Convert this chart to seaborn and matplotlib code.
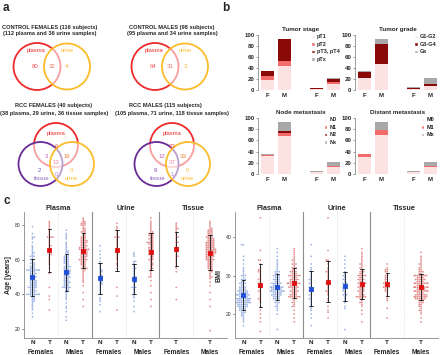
import numpy as np
import pandas as pd
import matplotlib
matplotlib.use('Agg')
import matplotlib.pyplot as plt
from matplotlib.patches import Circle, Patch
import seaborn as sns

# ---- panel a: Venn counts ----
ctrl_f_counts = [80, 32, 4]          # plasma only, both, urine only
ctrl_m_counts = [64, 31, 3]
# plasma only, plasma+tissue, plasma+urine, all, tissue only, tissue+urine, urine only
rcc_f_counts = [6, 3, 16, 13, 2, 0, 0]
rcc_m_counts = [23, 12, 33, 37, 9, 1, 0]

# ---- panel b: stacked bars ----
bar_groups = ['F', 'M', 'F', 'M']
bar_pos = [0, 1, 3, 4]
stage_labels = ['pT1', 'pT2', 'pT3, pT4', 'pTx']
stage_pt1 = [19, 44, 1, 11]
stage_pt2 = [6, 8, 1, 3]
stage_pt34 = [10, 40, 2, 6]
stage_ptx = [0, 1, 0, 2]
grade_labels = ['G1-G2', 'G3-G4', 'Gx']
grade_g12 = [21, 47, 1, 8]
grade_g34 = [12, 36, 2, 3]
grade_gx = [2, 10, 2, 11]
node_labels = ['N0', 'N1', 'N2', 'Nx']
node_n0 = [32, 67, 4, 13]
node_n1 = [2, 7, 0, 2]
node_n2 = [0, 3, 0, 0]
node_nx = [1, 16, 1, 7]
dist_labels = ['M0', 'M1', 'Mx']
dist_m0 = [31, 69, 4, 13]
dist_m1 = [4, 10, 0, 1]
dist_mx = [0, 14, 1, 8]

# ---- panel c: age / BMI per group ----
group_pos = [0, 1, 2, 3, 4, 5, 6, 7, 8.5, 10.5]
group_kind = ['N', 'T', 'N', 'T', 'N', 'T', 'N', 'T', 'T', 'T']
sex_labels = ['Females', 'Males', 'Females', 'Males', 'Females', 'Males']
sample_titles = ['Plasma', 'Urine', 'Tissue']

age_plasma_f_n = [27, 29, 31, 32, 33, 34, 35, 36, 36, 37, 37, 38, 38, 39, 39, 39, 40, 40, 40, 40, 40, 40, 40, 40,
                  41, 41, 41, 42, 42, 42, 42, 43, 43, 43, 44, 44, 44, 44, 44, 45, 45, 45, 45, 46, 46, 46, 46,
                  47, 47, 47, 47, 48, 48, 48, 48, 49, 49, 49, 50, 50, 50, 50, 51, 51, 51, 52, 52, 52, 52,
                  53, 53, 53, 54, 54, 54, 54, 54, 54, 54, 54, 55, 55, 55, 56, 56, 56, 57, 57, 58, 58, 58,
                  59, 60, 60, 60, 61, 62, 62, 62, 63, 64, 64, 65, 66, 67, 68, 70, 72, 73, 73, 75, 79]
age_plasma_f_t = [31, 37, 39, 44, 52, 55, 57, 58, 59, 60, 61, 62, 63, 63, 64, 65, 66, 66, 67, 68, 68, 69, 70,
                  71, 72, 73, 73, 73, 73, 74, 75, 76, 77, 78, 79, 80, 81, 82]
age_plasma_m_n = [25, 27, 30, 32, 33, 35, 37, 38, 39, 40, 41, 42, 42, 43, 43, 44, 44, 44, 44, 44, 45, 45, 45,
                  46, 46, 46, 47, 47, 47, 47, 48, 48, 48, 49, 49, 49, 50, 50, 50, 50, 51, 51, 51, 52, 52, 52,
                  52, 53, 53, 53, 53, 54, 54, 54, 54, 55, 55, 55, 56, 56, 56, 56, 57, 57, 58, 58, 58, 59, 59,
                  59, 60, 60, 60, 61, 61, 61, 62, 62, 62, 63, 63, 64, 64, 65, 65, 66, 67, 68, 69, 70, 72, 73,
                  74, 75, 77]
age_plasma_m_t = [33, 37, 41, 45, 47, 48, 49, 50, 51, 52, 53, 54, 54, 55, 55, 55, 55, 56, 56, 57, 57, 57, 58,
                  58, 58, 59, 59, 59, 60, 60, 60, 60, 60, 61, 61, 61, 62, 62, 62, 62, 63, 63, 63, 63, 64, 64,
                  64, 64, 65, 65, 65, 65, 66, 66, 66, 66, 66, 66, 67, 67, 67, 67, 68, 68, 68, 68, 69, 69, 69,
                  70, 70, 70, 70, 71, 71, 71, 71, 72, 72, 72, 73, 73, 73, 74, 74, 75, 75, 76, 76, 76, 77, 77,
                  78, 78, 79, 80, 80, 80, 81, 81, 81, 82, 82, 83, 84]
age_urine_f_n = [30, 34, 36, 37, 38, 40, 41, 42, 43, 44, 45, 46, 46, 47, 47, 48, 48, 49, 50, 50, 51, 51, 52,
                 53, 53, 54, 54, 55, 56, 57, 58, 59, 61, 63, 65, 68]
age_urine_f_t = [31, 39, 44, 55, 57, 58, 60, 61, 62, 63, 64, 65, 66, 67, 68, 69, 70, 71, 72, 73, 73, 73, 74,
                 75, 76, 77, 78, 79, 81]
age_urine_m_n = [30, 33, 36, 38, 39, 40, 41, 42, 43, 44, 44, 44, 45, 46, 47, 47, 48, 49, 50, 50, 51, 52, 53,
                 54, 55, 55, 56, 57, 58, 59, 59, 62, 63, 64]
age_urine_m_t = [33, 37, 41, 45, 48, 50, 50, 51, 52, 53, 54, 55, 55, 56, 57, 57, 58, 58, 59, 60, 60, 60, 61,
                 61, 62, 62, 63, 63, 63, 64, 64, 65, 65, 65, 66, 66, 66, 67, 67, 67, 68, 68, 69, 69, 69, 70,
                 70, 70, 70, 71, 71, 72, 72, 72, 73, 73, 74, 74, 74, 75, 75, 75, 76, 76, 77, 78, 79, 80, 81,
                 82, 84]
age_tissue_f_t = [37, 44, 53, 55, 56, 57, 58, 59, 60, 61, 62, 62, 63, 64, 65, 65, 66, 67, 67, 68, 69, 70, 70,
                  71, 72, 73, 73, 74, 75, 76, 77, 78, 78, 79, 80, 81]
age_tissue_m_t = [19, 33, 37, 41, 45, 47, 49, 50, 50, 51, 52, 53, 53, 54, 54, 55, 55, 55, 56, 56, 56, 57, 57,
                  57, 58, 58, 58, 59, 59, 59, 60, 60, 60, 60, 60, 61, 61, 61, 61, 62, 62, 62, 62, 62, 63, 63,
                  63, 63, 63, 64, 64, 64, 64, 64, 64, 65, 65, 65, 65, 65, 65, 66, 66, 66, 66, 66, 66, 67, 67,
                  67, 67, 67, 68, 68, 68, 68, 68, 69, 69, 69, 69, 69, 70, 70, 70, 70, 70, 71, 71, 71, 71, 72,
                  72, 72, 72, 73, 73, 73, 73, 74, 74, 74, 75, 75, 75, 76, 76, 76, 77, 77, 77, 78, 78, 79, 80,
                  81, 82]

bmi_plasma_f_n = [17, 18, 18.5, 19, 19.5, 19.5, 20, 20, 20.5, 20.5, 20.5, 21, 21, 21, 21, 21.5, 21.5, 21.5,
                  21.5, 22, 22, 22, 22, 22, 22, 22.5, 22.5, 22.5, 22.5, 22.5, 22.5, 23, 23, 23, 23, 23, 23,
                  23, 23, 23, 23.5, 23.5, 23.5, 23.5, 23.5, 23.5, 23.5, 24, 24, 24, 24, 24, 24, 24, 24, 24,
                  24.5, 24.5, 24.5, 24.5, 24.5, 25, 25, 25, 25, 25, 25, 25, 25, 25.5, 25.5, 25.5, 25.5, 25.5,
                  26, 26, 26, 26, 26, 26, 26.5, 26.5, 26.5, 26.5, 27, 27, 27, 27, 27.5, 27.5, 28, 28, 28, 28,
                  28.5, 28.5, 29, 29, 29, 29.5, 30, 30, 30, 30.5, 31, 31.5, 32, 33, 34, 35, 38, 38]
bmi_plasma_f_t = [15.5, 18, 19, 20, 21, 22, 23, 23.5, 24, 24, 24.5, 25, 25.5, 26, 26, 26.5, 27, 27, 27, 27.5,
                  28, 28, 28.5, 29, 29, 29.5, 30, 30.5, 31, 31, 31.5, 31.5, 32, 33, 34, 34, 36.5, 45]
bmi_plasma_m_n = [16, 20, 21, 21.5, 22, 22, 22.5, 23, 23, 23, 23.5, 23.5, 24, 24, 24, 24, 24.5, 24.5, 24.5,
                  24.5, 25, 25, 25, 25, 25, 25, 25.5, 25.5, 25.5, 25.5, 25.5, 26, 26, 26, 26, 26, 26, 26, 26,
                  26, 26.5, 26.5, 26.5, 26.5, 26.5, 26.5, 27, 27, 27, 27, 27, 27, 27, 27, 27.5, 27.5, 27.5,
                  27.5, 28, 28, 28, 28, 28, 28, 28.5, 28.5, 28.5, 29, 29, 29, 29, 29.5, 29.5, 29.5, 30, 30, 30,
                  30, 30.5, 30.5, 31, 31, 31, 31.5, 32, 32.5, 33, 33.5, 34, 35, 36, 37]
bmi_plasma_m_t = [18, 19, 20, 21, 22, 22, 22.5, 23, 23, 23.5, 24, 24, 24, 24.5, 24.5, 24.5, 24.5, 24.5, 24.5,
                  24.5, 25, 25, 25, 25, 25.5, 25.5, 25.5, 26, 26, 26, 26, 26, 26.5, 26.5, 26.5, 27, 27, 27, 27,
                  27, 27, 27.5, 27.5, 27.5, 27.5, 28, 28, 28, 28, 28, 28, 28, 28, 28.5, 28.5, 28.5, 28.5, 29,
                  29, 29, 29, 29, 29.5, 29.5, 29.5, 30, 30, 30, 30, 30, 30, 30, 30.5, 30.5, 30.5, 31, 31, 31,
                  31, 31.5, 31.5, 32, 32, 32, 32.5, 33, 33, 33, 33.5, 34, 34, 34.5, 35, 35.5, 36, 36.5, 37]
bmi_urine_f_n = [17, 19, 20, 21, 21.5, 22, 22.5, 23, 23.5, 24, 24, 24.5, 25, 25, 25.5, 26, 26, 26, 26.5, 27,
                 27, 27.5, 28, 28, 28.5, 29, 29, 29.5, 30, 30.5, 31, 31.5, 32, 33, 35, 38]
bmi_urine_f_t = [19, 20.5, 21, 22, 23.5, 24, 25, 25.5, 26, 26, 26.5, 27, 27.5, 28, 28, 28.5, 29, 29.5, 30,
                 30.5, 31, 31, 31.5, 32, 33, 34, 34, 36.5, 45]
bmi_urine_m_n = [16, 21.5, 22, 23, 23.5, 24, 24.5, 25, 25, 25, 25.5, 26, 26, 26.5, 26.5, 27, 27, 27, 27.5, 28,
                 28, 28, 28.5, 29, 29, 29.5, 30, 30, 30.5, 31, 32, 33, 34, 35]
bmi_urine_m_t = [18, 20, 21, 22, 22.5, 23, 23, 23.5, 24, 24, 24.5, 24.5, 24.5, 24.5, 24.5, 24.5, 25, 25, 25,
                 25.5, 25.5, 26, 26, 26, 26, 26.5, 26.5, 27, 27, 27, 27.5, 27.5, 27.5, 28, 28, 28, 28, 28.5,
                 28.5, 29, 29, 29, 29.5, 29.5, 30, 30, 30, 30, 30.5, 30.5, 31, 31, 31, 31.5, 32, 32, 32.5,
                 33, 33, 33.5, 34, 34.5, 35, 35.5, 36, 37, 26.5, 27, 28, 29, 30]
bmi_tissue_f_t = [19, 21.5, 23.5, 24, 24.5, 25, 25.5, 26, 26, 26.5, 26.5, 27, 27, 27, 27, 27.5, 27.5, 28, 28,
                  28, 28, 28.5, 28.5, 29, 29, 29.5, 29.5, 30, 30, 30.5, 31, 31, 31.5, 31.5, 32, 33]
bmi_tissue_m_t = [18, 19, 20, 20.5, 21, 21, 21.5, 22, 22, 22.5, 22.5, 23, 23, 23, 23.5, 23.5, 23.5, 24, 24,
                  24, 24, 24, 24.5, 24.5, 24.5, 24.5, 24.5, 24.5, 24.5, 24.5, 25, 25, 25, 25, 25, 25, 25.5,
                  25.5, 25.5, 25.5, 26, 26, 26, 26, 26, 26, 26, 26.5, 26.5, 26.5, 26.5, 26.5, 27, 27, 27, 27,
                  27, 27, 27, 27, 27.5, 27.5, 27.5, 27.5, 28, 28, 28, 28, 28, 28, 28, 28.5, 28.5, 28.5, 28.5,
                  29, 29, 29, 29, 29, 29.5, 29.5, 29.5, 29.5, 30, 30, 30, 30, 30, 30, 30, 30.5, 30.5, 31, 31,
                  31, 31.5, 31.5, 32, 32, 32.5, 33, 33, 33.5, 34, 34.5, 35, 36, 24, 25, 26, 27, 28, 29, 30,
                  26, 27, 28]

age_groups = [age_plasma_f_n, age_plasma_f_t, age_plasma_m_n, age_plasma_m_t, age_urine_f_n, age_urine_f_t,
              age_urine_m_n, age_urine_m_t, age_tissue_f_t, age_tissue_m_t]
bmi_groups = [bmi_plasma_f_n, bmi_plasma_f_t, bmi_plasma_m_n, bmi_plasma_m_t, bmi_urine_f_n, bmi_urine_f_t,
              bmi_urine_m_n, bmi_urine_m_t, bmi_tissue_f_t, bmi_tissue_m_t]

sns.set_theme(style='white')
plt.rcParams['font.family'] = ['Liberation Sans', 'DejaVu Sans']

RED = '#ee2a2a'
YELLOW = '#fcbc2a'
PURPLE = '#6a2a98'

fig = plt.figure(figsize=(4.4, 3.55), dpi=100)

# overlay in pixel coordinates for panel a and panel letters
ov = fig.add_axes([0, 0, 1, 1])
ov.set_xlim(0, 440)
ov.set_ylim(355, 0)
ov.axis('off')

for lab, x, y in [('a', 3, 8), ('b', 222, 8), ('c', 3, 201)]:
    ov.text(x, y, lab, fontsize=8.5, fontweight='bold', va='center', ha='left')


def venn_circle(cx, cy, r, col):
    ov.add_patch(Circle((cx, cy), r, facecolor=(1, 1, 1, 0.55), edgecolor=col, lw=1.3))


def venn_title(cx, y, line1, line2, cx2=None):
    ov.text(cx, y, line1, fontsize=4.1, fontweight='bold', ha='center', va='center')
    ov.text(cx if cx2 is None else cx2, y + 7, line2, fontsize=4.1, fontweight='bold', ha='center', va='center')


def two_venn(cx, cy, counts):
    venn_circle(cx - 15, cy, 23.5, RED)
    venn_circle(cx + 15, cy, 23, YELLOW)
    ov.text(cx - 16, cy - 16, 'plasma', color=RED, fontsize=4.2, ha='center', va='center')
    ov.text(cx + 15, cy - 16, 'urine', color=YELLOW, fontsize=4.2, ha='center', va='center')
    cols = ['#f05a5a', '#e8786a', '#f5b03a']
    for dx, n, c in zip([-17, 0, 15], counts, cols):
        ov.text(cx + dx, cy, str(n), color=c, fontsize=4.4, ha='center', va='center')


def three_venn(cx, cy, counts):
    venn_circle(cx, cy - 10, 22, RED)
    venn_circle(cx - 15.5, cy + 9, 22, PURPLE)
    venn_circle(cx + 16, cy + 9, 22, YELLOW)
    ov.text(cx, cy - 22, 'plasma', color=RED, fontsize=4.2, ha='center', va='center')
    ov.text(cx - 14, cy + 23, 'tissue', color='#9060c0', fontsize=4.2, ha='center', va='center')
    ov.text(cx + 15, cy + 23, 'urine', color=YELLOW, fontsize=4.2, ha='center', va='center')
    offs = [(0, -9), (-10, 1), (11, 1), (0, 7), (-17, 16), (0, 19), (15, 16)]
    cols = ['#f05a5a', '#c060b0', '#e8803a', '#f08aa0', '#8050b8', '#b090d8', '#f5c040']
    for (dx, dy), n, c in zip(offs, counts, cols):
        ov.text(cx + dx, cy + dy, str(n), color=c, fontsize=4.4, ha='center', va='center')


venn_title(50, 27, 'CONTROL FEMALES (116 subjects)', '(112 plasma and 36 urine samples)')
venn_title(172, 27, 'CONTROL MALES (98 subjects)', '(95 plasma and 34 urine samples)')
two_venn(52, 66.5, ctrl_f_counts)
two_venn(170, 66.5, ctrl_m_counts)
venn_title(54, 106, 'RCC FEMALES (40 subjects)', '(38 plasma, 29 urine, 36 tissue samples)')
venn_title(165, 106, 'RCC MALES (115 subjects)', '(105 plasma, 71 urine, 118 tissue samples)', cx2=172)
three_venn(56, 155, rcc_f_counts)
three_venn(172, 155, rcc_m_counts)

# ---- panel b ----
C_LIGHT = '#fde2e2'
C_MID = '#f26c6c'
C_DARK = '#8a0a0a'
C_GREY = '#a8a8a8'


def stacked(rect, title, labels, layers, colors, leg_x):
    ax = fig.add_axes(rect)
    tops = np.cumsum(np.array(layers, dtype=float), axis=0)
    for i in range(len(layers) - 1, -1, -1):
        sns.barplot(x=bar_pos, y=tops[i], native_scale=True, orient='x', color=colors[i],
                    saturation=1, width=0.8, linewidth=0, ax=ax)
    ax.set_xlim(-0.6, 4.6)
    ax.set_ylim(0, 100)
    ax.set_xticks(bar_pos, bar_groups)
    ax.set_yticks(range(0, 101, 20))
    ax.tick_params(axis='x', length=0, pad=2.5, labelsize=4.4)
    ax.tick_params(axis='y', left=True, length=1.5, width=0.4, color='#555555', pad=1, labelsize=4.4)
    for t in ax.get_xticklabels() + ax.get_yticklabels():
        t.set_fontweight('bold')
    for s in ['top', 'right', 'bottom']:
        ax.spines[s].set_visible(False)
    ax.spines['left'].set_color('#777777')
    ax.spines['left'].set_linewidth(0.5)
    ax.set_xlabel('')
    ax.set_ylabel('')
    ax.set_title(title, fontsize=4.5, fontweight='bold', pad=3)
    handles = [Patch(facecolor=c, label=l) for c, l in zip(colors, labels)]
    leg = ax.legend(handles=handles, loc='upper left', bbox_to_anchor=(leg_x, 1.02), frameon=False,
                    fontsize=4.0, handlelength=0.6, handleheight=0.6, handletextpad=0.35,
                    labelspacing=0.45, borderaxespad=0.0, borderpad=0.1)
    for t in leg.get_texts():
        t.set_fontweight('bold')
    return ax


stacked([258 / 440, 1 - 90 / 355, 85 / 440, 55 / 355], 'Tumor stage', stage_labels,
        [stage_pt1, stage_pt2, stage_pt34, stage_ptx], [C_LIGHT, C_MID, C_DARK, C_GREY], 0.62)
stacked([355 / 440, 1 - 90 / 355, 85 / 440, 55 / 355], 'Tumor grade', grade_labels,
        [grade_g12, grade_g34, grade_gx], [C_LIGHT, C_DARK, C_GREY], 0.69)
stacked([258 / 440, 1 - 174 / 355, 85 / 440, 56 / 355], 'Node metastasis', node_labels,
        [node_n0, node_n1, node_n2, node_nx], [C_LIGHT, C_MID, C_DARK, C_GREY], 0.77)
stacked([355 / 440, 1 - 174 / 355, 85 / 440, 56 / 355], 'Distant metastasis', dist_labels,
        [dist_m0, dist_m1, dist_mx], [C_LIGHT, C_MID, C_GREY], 0.77)

# ---- panel c ----
point_cols = {'N': '#7393d8', 'T': '#d85c5c'}
mean_cols = {'N': '#1f4fd8', 'T': '#e01010'}


def dot_panel(rect, groups, ylabel, yticks, ylim):
    ax = fig.add_axes(rect)
    rows = []
    for pos, kind, vals in zip(group_pos, group_kind, groups):
        for v in vals:
            rows.append((pos, kind, v))
    df = pd.DataFrame(rows, columns=['pos', 'kind', 'val'])
    ax.set_ylim(*ylim)
    sns.swarmplot(data=df, x='pos', y='val', hue='kind', palette=point_cols, native_scale=True,
                  orient='x', size=1.25, alpha=0.7, linewidth=0, legend=False, ax=ax, zorder=1)
    sns.pointplot(data=df, x='pos', y='val', hue='kind', palette=mean_cols, native_scale=True,
                  orient='x', errorbar='sd', markers='s', markersize=2.0, linestyle='none',
                  capsize=0.2, err_kws={'color': '#111111', 'linewidth': 0.6, 'zorder': 3},
                  legend=False, ax=ax, zorder=4)
    ax.set_xlim(-0.5, 11.5)
    ax.set_ylim(*ylim)
    ax.set_xticks(group_pos, group_kind)
    ax.set_yticks(yticks)
    ax.tick_params(axis='x', labelsize=4.6, length=0, pad=1.5)
    ax.tick_params(axis='y', labelsize=3.6, pad=1.2, left=True, length=1.5, width=0.4)
    for t in ax.get_xticklabels():
        t.set_fontweight('bold')
    for s in ['top', 'right']:
        ax.spines[s].set_visible(False)
    for s in ['left', 'bottom']:
        ax.spines[s].set_color('#888888')
        ax.spines[s].set_linewidth(0.6)
    for x in [3.5, 7.5]:
        ax.axvline(x, color='#8c8c8c', lw=0.8, zorder=0)
    for x in [1.5, 5.5, 9.5]:
        ax.axvline(x, color='#cfcfcf', lw=0.5, ls=':', zorder=0)
    tr = ax.get_xaxis_transform()
    for x, lab in zip([0.5, 2.5, 4.5, 6.5, 8.5, 10.5], sex_labels):
        ax.text(x, -0.112, lab, transform=tr, fontsize=4.7, fontweight='bold', ha='center', va='center')
    for x, lab in zip([1.5, 5.5, 9.5], sample_titles):
        ax.text(x, 1.03, lab, transform=tr, fontsize=5.2, fontweight='bold', ha='center', va='center')
    ax.set_xlabel('')
    ax.set_ylabel(ylabel, fontsize=5, fontweight='bold', labelpad=2)
    return ax


dot_panel([24 / 440, 1 - 338 / 355, 203 / 440, 126 / 355], age_groups, 'Age [years]',
          [20, 40, 60, 80], (14.8, 87.5))
dot_panel([235 / 440, 1 - 338 / 355, 203 / 440, 126 / 355], bmi_groups, 'BMI',
          [20, 30, 40], (13.8, 46.5))

fig.savefig('out.png', dpi=100)
